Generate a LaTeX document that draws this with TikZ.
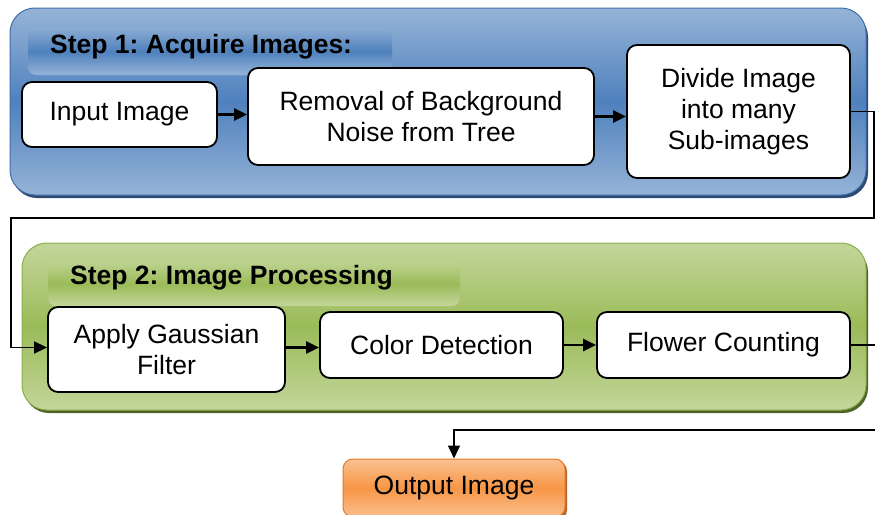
\documentclass[tikz,border=0pt]{standalone}
\usepackage{fontspec}
\setmainfont{Liberation Sans}
\usetikzlibrary{arrows.meta,calc}
\frenchspacing

\definecolor{bluelight}{RGB}{149,179,215}
\definecolor{bluemid}{RGB}{79,129,189}
\definecolor{blueedge}{RGB}{64,110,170}
\definecolor{blueshadow}{RGB}{44,74,114}
\definecolor{greenlight}{RGB}{195,214,155}
\definecolor{greenmid}{RGB}{155,187,89}
\definecolor{greenedge}{RGB}{140,172,78}
\definecolor{greenshadow}{RGB}{79,98,40}
\definecolor{orangelight}{RGB}{250,192,144}
\definecolor{orangemid}{RGB}{247,150,70}
\definecolor{orangeedge}{RGB}{228,120,40}
\definecolor{orangeshadow}{RGB}{182,100,40}

\tikzset{
  x=1pt, y=-1pt,
  every node/.style={font=\fontsize{26.5}{31}\selectfont, align=center, inner sep=0pt},
  procbox/.style={draw=black, line width=1.8pt, rounded corners=10pt, fill=white},
  titletext/.style={font=\fontsize{26.5}{31}\selectfont\bfseries, anchor=west},
  flowarrow/.style={line width=2.4pt, -{Triangle[length=13pt,width=12pt]}},
  looparrow/.style={line width=1.6pt, -{Triangle[length=13pt,width=12pt]}},
}

\begin{document}
\begin{tikzpicture}
\useasboundingbox (0,0) rectangle (875,514);

% ---- Step 1 panel ----
\fill[blueshadow, rounded corners=25pt] (12,12) rectangle (868,198);
\shade[top color=bluelight, bottom color=bluelight, middle color=bluemid,
       draw=blueedge, line width=1pt, rounded corners=25pt] (10,8) rectangle (866,195);
\shade[top color=bluelight!85!bluemid, bottom color=bluelight, middle color=bluemid,
       rounded corners=8pt] (28,28) rectangle (392,75);
\node[titletext] (t1) at (50,47) {Step 1: Acquire Images:};

% ---- Step 2 panel ----
\fill[greenshadow, rounded corners=25pt] (24,247) rectangle (868,413);
\shade[top color=greenlight, bottom color=greenlight, middle color=greenmid,
       draw=greenedge, line width=1pt, rounded corners=25pt] (22,243) rectangle (866,410);
\shade[top color=greenlight!85!greenmid, bottom color=greenlight, middle color=greenmid,
       rounded corners=8pt] (48,262) rectangle (460,306);
\node[titletext] (t2) at (70,278) {Step 2: Image Processing};

% ---- process boxes ----
\node[procbox, minimum width=195pt, minimum height=65pt] (input) at (119.5,114.5) {Input Image};
\node[procbox, minimum width=346pt, minimum height=97pt] (removal) at (421,116.5) {Removal of Background\\Noise from Tree};
\node[procbox, minimum width=223pt, minimum height=133pt] (divide) at (738.5,111.5) {Divide Image\\into many\\Sub-images};

\node[procbox, minimum width=237pt, minimum height=85pt] (apply) at (166.5,349.5) {Apply Gaussian\\Filter};
\node[procbox, minimum width=243pt, minimum height=66pt] (color) at (441.5,345) {Color Detection};
\node[procbox, minimum width=253pt, minimum height=66pt] (flower) at (723.5,345) {Flower Counting};

% ---- output box ----
\fill[orangeshadow, rounded corners=10pt] (345,461) rectangle (567,520);
\node[rounded corners=10pt, draw=orangeedge, line width=1pt,
      top color=orangelight, bottom color=orangelight, middle color=orangemid,
      minimum width=222pt, minimum height=58pt] (output) at (454,488) {Output Image};

% ---- connectors ----
\draw[flowarrow] (input.east) -- (input.east -| removal.west);
\draw[flowarrow] (removal.east) -- (removal.east -| divide.west);
\draw[flowarrow] ($(apply.east)+(0,-2)$) -- ($(apply.east -| color.west)+(0,-2)$);
\draw[flowarrow] (color.east) -- (flower.west);

\coordinate (a1) at (874,111.5);
\coordinate (a2) at (874,218);
\coordinate (a3) at (11,218);
\coordinate (a4) at (11,347.5);
\draw[looparrow] (divide.east) -- (a1) -- (a2) -- (a3) -- (a4) -- ($(apply.west)+(0,-2)$);

\coordinate (b1) at (878,345);
\coordinate (b2) at (878,430);
\coordinate (b3) at (454,430);
\draw[looparrow] (flower.east) -- (b1) -- (b2) -- (b3) -- (output.north);
\end{tikzpicture}
\end{document}
